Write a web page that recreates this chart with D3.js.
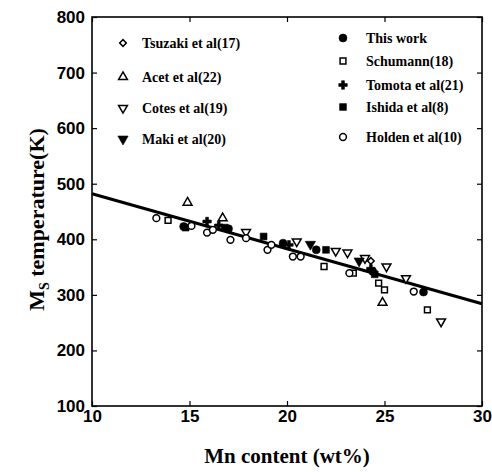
<!DOCTYPE html>
<html>
<head>
<meta charset="utf-8">
<script src="https://cdn.jsdelivr.net/npm/d3@7"></script>
<style>
  body { margin: 0; background: #fff; }
  svg { display: block; font-family: "Liberation Serif", "Times New Roman", serif; font-weight: bold; }
</style>
</head>
<body>
<svg id="chart" width="492" height="472"></svg>
<script>
// values (Mn wt%, Ms in K)
const xTicks = [10, 15, 20, 25, 30];
const yTicks = [100, 200, 300, 400, 500, 600, 700, 800];

const tsuzaki = [[24.3, 361]];
const acet = [[14.9, 466], [16.7, 438], [24.9, 286]];
const cotes = [[17.9, 413], [20.5, 396], [22.5, 379], [23.1, 376], [24.0, 366], [25.1, 351], [26.1, 330], [27.9, 252]];
const maki = [[21.2, 391], [23.7, 361]];
const thisWork = [[14.7, 423], [17.0, 419], [19.8, 393], [21.5, 381], [24.4, 342], [27.0, 305]];
const schumann = [[13.9, 434], [21.9, 351], [23.4, 339], [24.7, 321], [25.0, 309], [27.2, 273]];
const tomota = [[15.9, 432], [16.5, 425], [20.1, 390], [24.3, 347]];
const ishida = [[14.8, 421], [16.8, 421], [18.8, 405], [22.0, 381], [24.5, 337]];
const holden = [[13.3, 438], [15.1, 424], [15.9, 412], [16.2, 417], [17.1, 399], [17.9, 402], [19.0, 381], [19.2, 390], [20.3, 369], [20.7, 369], [23.2, 339], [26.5, 306]];

const fitLine = [[10, 482], [30, 284]];

const legendLeft = ["Tsuzaki et al(17)", "Acet et al(22)", "Cotes et al(19)", "Maki et al(20)"];
const legendRight = ["This work", "Schumann(18)", "Tomota et al(21)", "Ishida et al(8)", "Holden et al(10)"];

const svg = d3.select("#chart");
const margin = {top: 17, right: 10, bottom: 66, left: 92},
    width = 492 - margin.left - margin.right,
    height = 472 - margin.top - margin.bottom;

const x = d3.scaleLinear().domain([10, 30]).range([0, width]);
const y = d3.scaleLinear().domain([100, 800]).range([height, 0]);

const g = svg.append("g").attr("transform", `translate(${margin.left},${margin.top})`);

// marker styles per series
const marks = {
    "Tsuzaki et al(17)": {type: d3.symbolSquare, size: 22, rot: 45, fill: false, data: tsuzaki},
    "Acet et al(22)": {type: d3.symbolTriangle, size: 34, rot: 0, fill: false, data: acet},
    "Cotes et al(19)": {type: d3.symbolTriangle, size: 34, rot: 180, fill: false, data: cotes},
    "Maki et al(20)": {type: d3.symbolTriangle, size: 46, rot: 180, fill: true, data: maki},
    "This work": {type: d3.symbolCircle, size: 50, rot: 0, fill: true, data: thisWork},
    "Schumann(18)": {type: d3.symbolSquare, size: 34, rot: 0, fill: false, data: schumann},
    "Tomota et al(21)": {type: d3.symbolCross, size: 40, rot: 0, fill: true, data: tomota},
    "Ishida et al(8)": {type: d3.symbolSquare, size: 46, rot: 0, fill: true, data: ishida},
    "Holden et al(10)": {type: d3.symbolCircle, size: 36, rot: 0, fill: false, data: holden}
};

function drawMark(sel, m) {
    sel.attr("d", d3.symbol().type(m.type).size(m.size))
        .attr("fill", m.fill ? "#000" : "#fff")
        .attr("stroke", "#000")
        .attr("stroke-width", m.fill ? 0.6 : 1.5);
}

// axes: ticks point inward on all four sides
const ax = (axis) => axis.tickSize(-5).tickPadding(6);
const bottom = g.append("g").attr("transform", `translate(0,${height})`)
    .call(ax(d3.axisBottom(x).tickValues(xTicks).tickFormat(d3.format("d"))));
const left = g.append("g")
    .call(ax(d3.axisLeft(y).tickValues(yTicks).tickFormat(d3.format("d"))));
g.append("g").call(d3.axisTop(x).tickValues(xTicks).tickSize(-5).tickFormat(""));
g.append("g").attr("transform", `translate(${width},0)`)
    .call(d3.axisRight(y).tickValues(yTicks).tickSize(-5).tickFormat(""));

g.selectAll(".domain").remove();
g.selectAll(".tick line").attr("stroke", "#000").attr("stroke-width", 1.2);
bottom.selectAll("text").attr("font-size", 17).attr("fill", "#000").attr("dy", "0.6em");
left.selectAll("text").attr("font-size", 17).attr("fill", "#000").attr("dx", "-1");

g.append("rect")
    .attr("width", width).attr("height", height)
    .attr("fill", "none").attr("stroke", "#000").attr("stroke-width", 1.6);

// regression line
g.append("path")
    .datum(fitLine)
    .attr("d", d3.line().x(d => x(d[0])).y(d => y(d[1])))
    .attr("stroke", "#000").attr("stroke-width", 3).attr("fill", "none");

// data points
Object.keys(marks).forEach(function(name) {
    const m = marks[name];
    g.append("g").selectAll("path")
        .data(m.data)
        .enter().append("path")
        .attr("transform", d => `translate(${x(d[0])},${y(d[1])}) rotate(${m.rot})`)
        .call(drawMark, m);
});

// legend (two columns inside the frame)
const legendRows = [
    {names: legendLeft, mx: 31, tx: 50, ys: [26, 60, 91, 122]},
    {names: legendRight, mx: 251, tx: 274, ys: [21, 44, 68, 90, 120]}
];
legendRows.forEach(function(col) {
    const row = g.append("g").selectAll("g")
        .data(col.names)
        .enter().append("g")
        .attr("transform", (d, i) => `translate(0,${col.ys[i]})`);
    row.append("path")
        .attr("transform", d => `translate(${col.mx},0) rotate(${marks[d].rot})`)
        .each(function(d) { d3.select(this).call(drawMark, marks[d]); });
    row.append("text")
        .attr("x", col.tx)
        .attr("dy", "0.35em")
        .attr("font-size", 14)
        .text(d => d);
});

// axis titles
svg.append("text")
    .attr("x", margin.left + width / 2)
    .attr("y", 463)
    .attr("text-anchor", "middle")
    .attr("font-size", 21)
    .text("Mn content (wt%)");

const yt = svg.append("text")
    .attr("transform", `translate(44,${margin.top + height / 2 + 8}) rotate(-90)`)
    .attr("text-anchor", "middle")
    .attr("font-size", 22);
yt.append("tspan").text("M");
yt.append("tspan").attr("font-size", 14).attr("dy", 5).text("S");
yt.append("tspan").attr("dy", -5).text(" temperature(K)");
</script>
</body>
</html>
